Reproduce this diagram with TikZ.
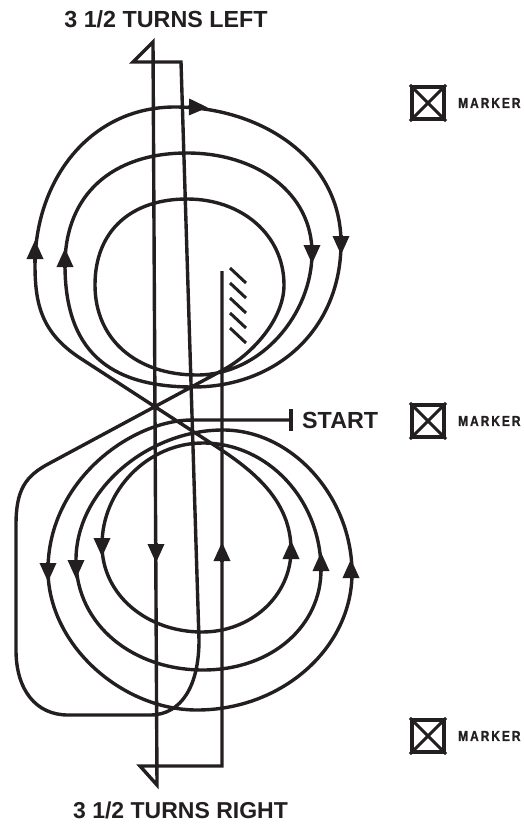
\documentclass[tikz,border=0pt]{standalone}
\usepackage{fontspec}
\setmainfont{Liberation Sans}
\newfontfamily\markerfont[LetterSpace=14,FakeStretch=0.82,FakeBold=1.2]{Liberation Sans}
\definecolor{mlink}{RGB}{35,31,32}
\usetikzlibrary{arrows.meta}
\tikzset{
  track/.style={draw=mlink, line width=3.4pt, line join=miter},
  tipline/.style={draw=mlink, line width=3.4pt, -{Triangle[length=19pt,width=16pt]}},
  heading/.style={text=mlink, font=\bfseries\fontsize{23.3}{26}\selectfont, inner sep=0pt, anchor=base},
  markerbox/.style={draw=mlink, line width=3.6pt, minimum size=32.5pt, inner sep=0pt},
  markerlabel/.style={text=mlink, font=\markerfont\bfseries\fontsize{14.5}{16}\selectfont, inner sep=0pt, anchor=west},
}
\begin{document}
\begin{tikzpicture}[x=1pt,y=-1pt]
\useasboundingbox (0,0) rectangle (524,824);

% Headings
\node[heading] (left) at (166,27.5) {3 1/2 TURNS LEFT};
\node[heading, font=\bfseries\fontsize{23}{26}\selectfont] (right) at (180.5,818.5) {3 1/2 TURNS RIGHT};
\node[heading, anchor=base west] (start) at (302,428.5) {START};

% Markers
\foreach \n/\y in {a/103, b/421, c/736} {
  \node[markerbox] (box\n) at (428,\y) {};
  \draw[track, line width=3pt] (box\n.north west) -- (box\n.south east);
  \draw[track, line width=3pt] (box\n.north east) -- (box\n.south west);
  \node[markerlabel] at (458,\y) (mark\n) {MARKER};
}

% Start bar
\draw[track] (291,409) -- (291,431);

% Lower turns
\draw[track] (291,420) -- (192,420)
  .. controls +(-60,0) and +(0,-90) .. (48,570)
  .. controls +(0,75) and +(-75,0) .. (197,710)
  .. controls +(85,0) and +(0,75) .. (352,573)
  .. controls +(0,-75) and +(70,0) .. (223,430)
  .. controls +(-75,0) and +(0,-70) .. (76,560)
  .. controls +(0,65) and +(-70,0) .. (203,670)
  .. controls +(70,0) and +(0,55) .. (321,570)
  .. controls +(0,-70) and +(65,0) .. (203,443)
  .. controls +(-55,0) and +(0,-55) .. (102,545)
  .. controls +(0,50) and +(-55,0) .. (202,632)
  .. controls +(50,0) and +(0,45) .. (291,550)
  .. controls +(0,-50) and +(35,23) .. (217,447)
  -- (80,358)
% Upper turns
  .. controls +(-38,-25) and +(0,40) .. (35,265)
  .. controls +(0,-85) and +(-85,0) .. (175,107)
  .. controls +(85,0) and +(0,-85) .. (341,243)
  .. controls +(0,85) and +(85,0) .. (193,387)
  .. controls +(-85,0) and +(0,85) .. (65,265)
  .. controls +(0,-70) and +(-75,0) .. (187,153)
  .. controls +(70,0) and +(0,-60) .. (312,253)
  .. controls +(0,60) and +(65,0) .. (197,375)
  .. controls +(-60,0) and +(0,55) .. (95,285)
  .. controls +(0,-55) and +(-55,0) .. (187,199)
  .. controls +(55,0) and +(0,-50) .. (284,285)
  .. controls +(0,35) and +(28,-15) .. (223,370)
% Back across and round the outside
  -- (50,463)
  .. controls +(-25,13) and +(0,-35) .. (16,525)
  -- (16,650)
  .. controls +(0,40) and +(-32,0) .. (68,715)
  -- (150,715)
  .. controls +(32,0) and +(0,45) .. (199,640)
% Long legs with the two flags
  -- (181,62) -- (133,62) -- (153,42) -- (157,785) -- (140,766) -- (222,766) -- (222,271);

% Hatching
\foreach \y in {268,283,298,313,328}
  \draw[track, line width=3pt] (230,\y) -- (246,\y+15);

% Arrow heads
\foreach \x/\a/\b in {35/263/240, 65/268/248, 291/559/540, 321/572/552, 351/578/559, 222/562/542}
  \draw[tipline] (\x,\a) -- (\x,\b);
\foreach \x/\a/\b in {341/235/255, 312/245/264, 156/543/563, 48/562/582, 76/560/579, 102/538/557}
  \draw[tipline] (\x,\a) -- (\x,\b);
\draw[tipline] (188,107) -- (208,107.5);

\end{tikzpicture}
\end{document}
